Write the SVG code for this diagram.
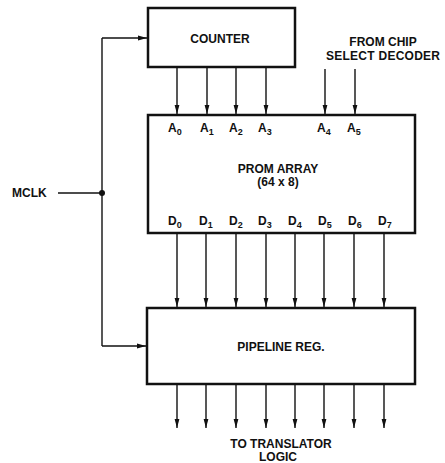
<svg xmlns="http://www.w3.org/2000/svg" width="445" height="463" viewBox="0 0 445 463">
<style>
.box{fill:#fff;stroke:#111;stroke-width:2.5}
.w{fill:none;stroke:#111;stroke-width:1.4}
.t{font-family:"Liberation Sans",Arial,sans-serif;font-weight:bold;font-size:12px;fill:#111}
.m{text-anchor:middle}
.s{font-size:9px}
</style>
<defs>
<marker id="ar" markerUnits="userSpaceOnUse" markerWidth="10" markerHeight="8" refX="9" refY="3" orient="auto">
<path d="M0,0.6 L9,3 L0,5.4 Z" fill="#111"/>
</marker>
</defs>
<rect width="445" height="463" fill="#fff"/>
<g id="connectors">
<path class="w" d="M102,38 V346"/>
<path class="w" d="M102,38 H147" marker-end="url(#ar)"/>
<path class="w" d="M102,346 H146" marker-end="url(#ar)"/>
<path class="w" d="M58,193 H102"/>
<circle cx="102" cy="193" r="3" fill="#111"/>
<path class="w" d="M177,67 V114" marker-end="url(#ar)"/>
<path class="w" d="M207,67 V114" marker-end="url(#ar)"/>
<path class="w" d="M236,67 V114" marker-end="url(#ar)"/>
<path class="w" d="M266,67 V114" marker-end="url(#ar)"/>
<path class="w" d="M325,69 V114" marker-end="url(#ar)"/>
<path class="w" d="M355,69 V114" marker-end="url(#ar)"/>
<path class="w" d="M177,233 V307" marker-end="url(#ar)"/>
<path class="w" d="M206,233 V307" marker-end="url(#ar)"/>
<path class="w" d="M236,233 V307" marker-end="url(#ar)"/>
<path class="w" d="M266,233 V307" marker-end="url(#ar)"/>
<path class="w" d="M295,233 V307" marker-end="url(#ar)"/>
<path class="w" d="M324,233 V307" marker-end="url(#ar)"/>
<path class="w" d="M354,233 V307" marker-end="url(#ar)"/>
<path class="w" d="M384,233 V307" marker-end="url(#ar)"/>
<path class="w" d="M177,384 V428" marker-end="url(#ar)"/>
<path class="w" d="M206,384 V428" marker-end="url(#ar)"/>
<path class="w" d="M236,384 V428" marker-end="url(#ar)"/>
<path class="w" d="M266,384 V428" marker-end="url(#ar)"/>
<path class="w" d="M295,384 V428" marker-end="url(#ar)"/>
<path class="w" d="M324,384 V428" marker-end="url(#ar)"/>
<path class="w" d="M354,384 V428" marker-end="url(#ar)"/>
<path class="w" d="M384,384 V428" marker-end="url(#ar)"/>
</g>
<g id="counter">
<rect class="box" x="148" y="8" width="147" height="59"/>
<text class="t m" x="220" y="43">COUNTER</text>
</g>
<g id="prom">
<rect class="box" x="148" y="115" width="267" height="118"/>
<text class="t" y="132"><tspan x="168">A</tspan><tspan class="s" dy="3">0</tspan><tspan x="200" dy="-3">A</tspan><tspan class="s" dy="3">1</tspan><tspan x="229" dy="-3">A</tspan><tspan class="s" dy="3">2</tspan><tspan x="258" dy="-3">A</tspan><tspan class="s" dy="3">3</tspan><tspan x="317" dy="-3">A</tspan><tspan class="s" dy="3">4</tspan><tspan x="347" dy="-3">A</tspan><tspan class="s" dy="3">5</tspan></text>
<text class="t m" x="278" y="173">PROM ARRAY</text>
<text class="t m" x="278" y="186">(64 x 8)</text>
<text class="t" y="225"><tspan x="168">D</tspan><tspan class="s" dy="3">0</tspan><tspan x="199" dy="-3">D</tspan><tspan class="s" dy="3">1</tspan><tspan x="229" dy="-3">D</tspan><tspan class="s" dy="3">2</tspan><tspan x="258" dy="-3">D</tspan><tspan class="s" dy="3">3</tspan><tspan x="288" dy="-3">D</tspan><tspan class="s" dy="3">4</tspan><tspan x="318" dy="-3">D</tspan><tspan class="s" dy="3">5</tspan><tspan x="348" dy="-3">D</tspan><tspan class="s" dy="3">6</tspan><tspan x="378" dy="-3">D</tspan><tspan class="s" dy="3">7</tspan></text>
</g>
<g id="pipeline">
<rect class="box" x="147" y="308" width="268" height="76"/>
<text class="t m" x="281" y="351">PIPELINE REG.</text>
</g>
<g id="labels">
<text class="t" x="12" y="197">MCLK</text>
<text class="t m" x="383" y="45.5">FROM CHIP</text>
<text class="t m" x="383" y="59.5" textLength="114">SELECT DECODER</text>
<text class="t m" x="281" y="448">TO TRANSLATOR</text>
<text class="t m" x="278" y="461">LOGIC</text>
</g>
</svg>
